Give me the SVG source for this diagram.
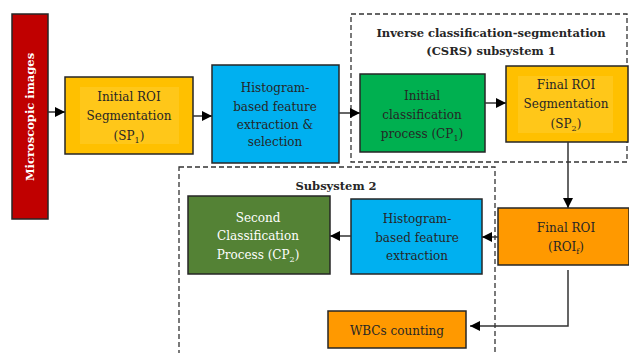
<svg xmlns="http://www.w3.org/2000/svg" width="629" height="353" viewBox="0 0 629 353">
<defs>
<marker id="ah" viewBox="0 0 10 10" refX="10" refY="5" markerWidth="10" markerHeight="10" markerUnits="userSpaceOnUse" orient="auto">
<path d="M0,0 L10,5 L0,10 z" fill="#000"/>
</marker>
<style>
.box{stroke:#262626;stroke-width:1.5}
.t{font-family:"DejaVu Serif","Liberation Serif",serif;font-size:12px;fill:#262626;text-anchor:middle}
.b{font-family:"DejaVu Serif","Liberation Serif",serif;font-size:11.5px;font-weight:bold;fill:#262626;text-anchor:middle}
.tw{fill:#fff}
.dash{fill:none;stroke:#333;stroke-width:1.3;stroke-dasharray:5,3}
.c{fill:none;stroke:#333;stroke-width:1.5;marker-end:url(#ah)}
.sub{font-size:8px}
</style>
</defs>
<rect width="629" height="353" fill="#fff"/>
<g id="frames">
<rect class="dash" x="351" y="14" width="276" height="148"/>
<rect class="dash" x="179" y="167" width="316" height="190"/>
<text class="b" x="491" y="37">Inverse classification-segmentation</text>
<text class="b" x="491" y="55">(CSRS) subsystem 1</text>
<text class="b" x="336" y="190">Subsystem 2</text>
</g>
<g id="microscopic">
<rect class="box" x="12" y="14" width="36" height="205" fill="#C00000"/>
<text class="b tw" transform="translate(34,117) rotate(-90)">Microscopic images</text>
</g>
<g id="sp1">
<rect class="box" x="65" y="77" width="128" height="77" fill="#FFC000"/>
<rect x="80" y="87" width="99" height="57" fill="#FFC719"/>
<text class="t" x="129" y="101">Initial ROI</text>
<text class="t" x="129" y="120">Segmentation</text>
<text class="t" x="129" y="140">(SP<tspan class="sub" dy="3">1</tspan><tspan dy="-3">)</tspan></text>
</g>
<g id="feat1">
<rect class="box" x="212" y="65" width="127" height="98" fill="#00B0F0"/>
<text class="t" x="275" y="92">Histogram-</text>
<text class="t" x="275" y="111">based feature</text>
<text class="t" x="275" y="129">extraction &amp;</text>
<text class="t" x="275" y="146">selection</text>
</g>
<g id="cp1">
<rect class="box" x="360" y="74" width="125" height="78" fill="#00B050"/>
<text class="t" x="422" y="100">Initial</text>
<text class="t" x="422" y="119">classification</text>
<text class="t" x="422" y="138">process (CP<tspan class="sub" dy="3">1</tspan><tspan dy="-3">)</tspan></text>
</g>
<g id="sp2">
<rect class="box" x="506" y="66" width="122" height="76" fill="#FFC000"/>
<rect x="518" y="76" width="95" height="57" fill="#FFC719"/>
<text class="t" x="566" y="89">Final ROI</text>
<text class="t" x="566" y="108">Segmentation</text>
<text class="t" x="566" y="128">(SP<tspan class="sub" dy="3">2</tspan><tspan dy="-3">)</tspan></text>
</g>
<g id="roif">
<rect class="box" x="498" y="208" width="131" height="57" fill="#FF9900"/>
<text class="t" x="566" y="232">Final ROI</text>
<text class="t" x="566" y="251">(ROI<tspan class="sub" dy="3">f</tspan><tspan dy="-3">)</tspan></text>
</g>
<g id="feat2">
<rect class="box" x="351" y="199" width="131" height="75" fill="#00B0F0"/>
<text class="t" x="417" y="223">Histogram-</text>
<text class="t" x="417" y="242">based feature</text>
<text class="t" x="417" y="260">extraction</text>
</g>
<g id="cp2">
<rect class="box" x="188" y="196" width="142" height="78" fill="#548235"/>
<text class="t tw" x="258" y="222">Second</text>
<text class="t tw" x="258" y="240">Classification</text>
<text class="t tw" x="258" y="259">Process (CP<tspan class="sub" dy="3">2</tspan><tspan dy="-3">)</tspan></text>
</g>
<g id="wbc">
<rect class="box" x="328" y="311" width="138" height="37" fill="#FF9900"/>
<text class="t" x="397" y="335">WBCs counting</text>
</g>
<g id="connectors">
<path class="c" d="M48,112 H65"/>
<path class="c" d="M193,116 H212"/>
<path class="c" d="M339,113 H360"/>
<path class="c" d="M485,103 H506"/>
<path class="c" d="M568,142 V208"/>
<path class="c" d="M498,237 H482"/>
<path class="c" d="M351,236 H330"/>
<path class="c" d="M568,270 V326 H470"/>
</g>
</svg>
